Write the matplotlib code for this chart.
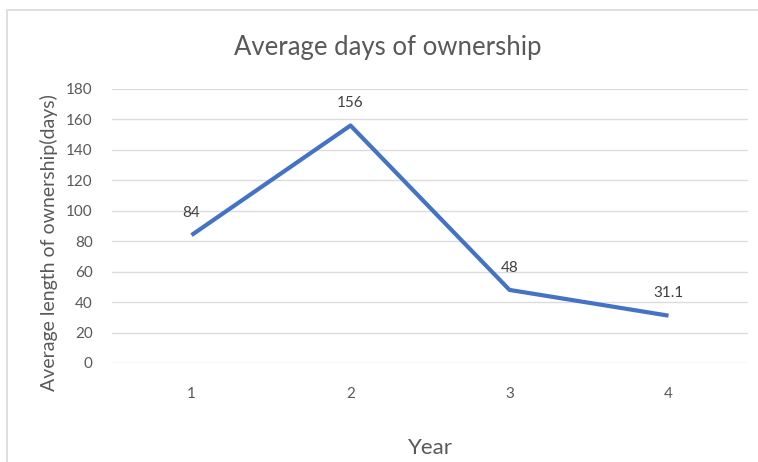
import matplotlib
matplotlib.use("Agg")
import matplotlib.pyplot as plt
from matplotlib.patches import Rectangle

# data
years = ["1", "2", "3", "4"]
avg_days = [84, 156, 48, 31.1]
day_labels = ["84", "156", "48", "31.1"]
y_ticks = [0, 20, 40, 60, 80, 100, 120, 140, 160, 180]

plt.rcParams["font.family"] = ["Lato", "DejaVu Sans"]

fig = plt.figure(figsize=(7.58, 4.62), dpi=100)
ax = fig.add_axes([0.1478, 0.2143, 0.8390, 0.5931])

# outer chart frame
fig.patches.append(Rectangle((0.009, -0.05), 1.2, 1.028, transform=fig.transFigure,
                             fill=False, edgecolor="#d9d9d9", linewidth=1.2))

x = range(len(years))
ax.plot(x, avg_days, color="#4472c4", linewidth=3, solid_capstyle="butt")
for xi, v, lab in zip(x, avg_days, day_labels):
    ax.annotate(lab, (xi, v), xytext=(0, 11), textcoords="offset points",
                ha="center", va="bottom", fontsize=11, color="#404040")

ax.set_xlim(-0.5, len(years) - 0.5)
ax.set_ylim(0, 180)
ax.set_yticks(y_ticks)
ax.set_xticks(list(x))
ax.set_xticklabels(years)
ax.grid(axis="y", color="#dcdcdc", linewidth=1)
ax.set_axisbelow(True)
for s in ax.spines.values():
    s.set_visible(False)
ax.tick_params(length=0, colors="#595959", labelsize=11)
ax.tick_params(axis="y", pad=14)
ax.tick_params(axis="x", pad=17)

fig.text(388 / 758, 1 - 48 / 462, "Average days of ownership", fontsize=18.5,
         color="#595959", ha="center", va="center")
ax.set_xlabel("Year", fontsize=16, color="#595959", labelpad=27)
ax.set_ylabel("Average length of ownership(days)", fontsize=14, color="#595959", labelpad=4)
ax.yaxis.set_label_coords(-0.085, 0.44)

fig.savefig("out.png", dpi=100)
